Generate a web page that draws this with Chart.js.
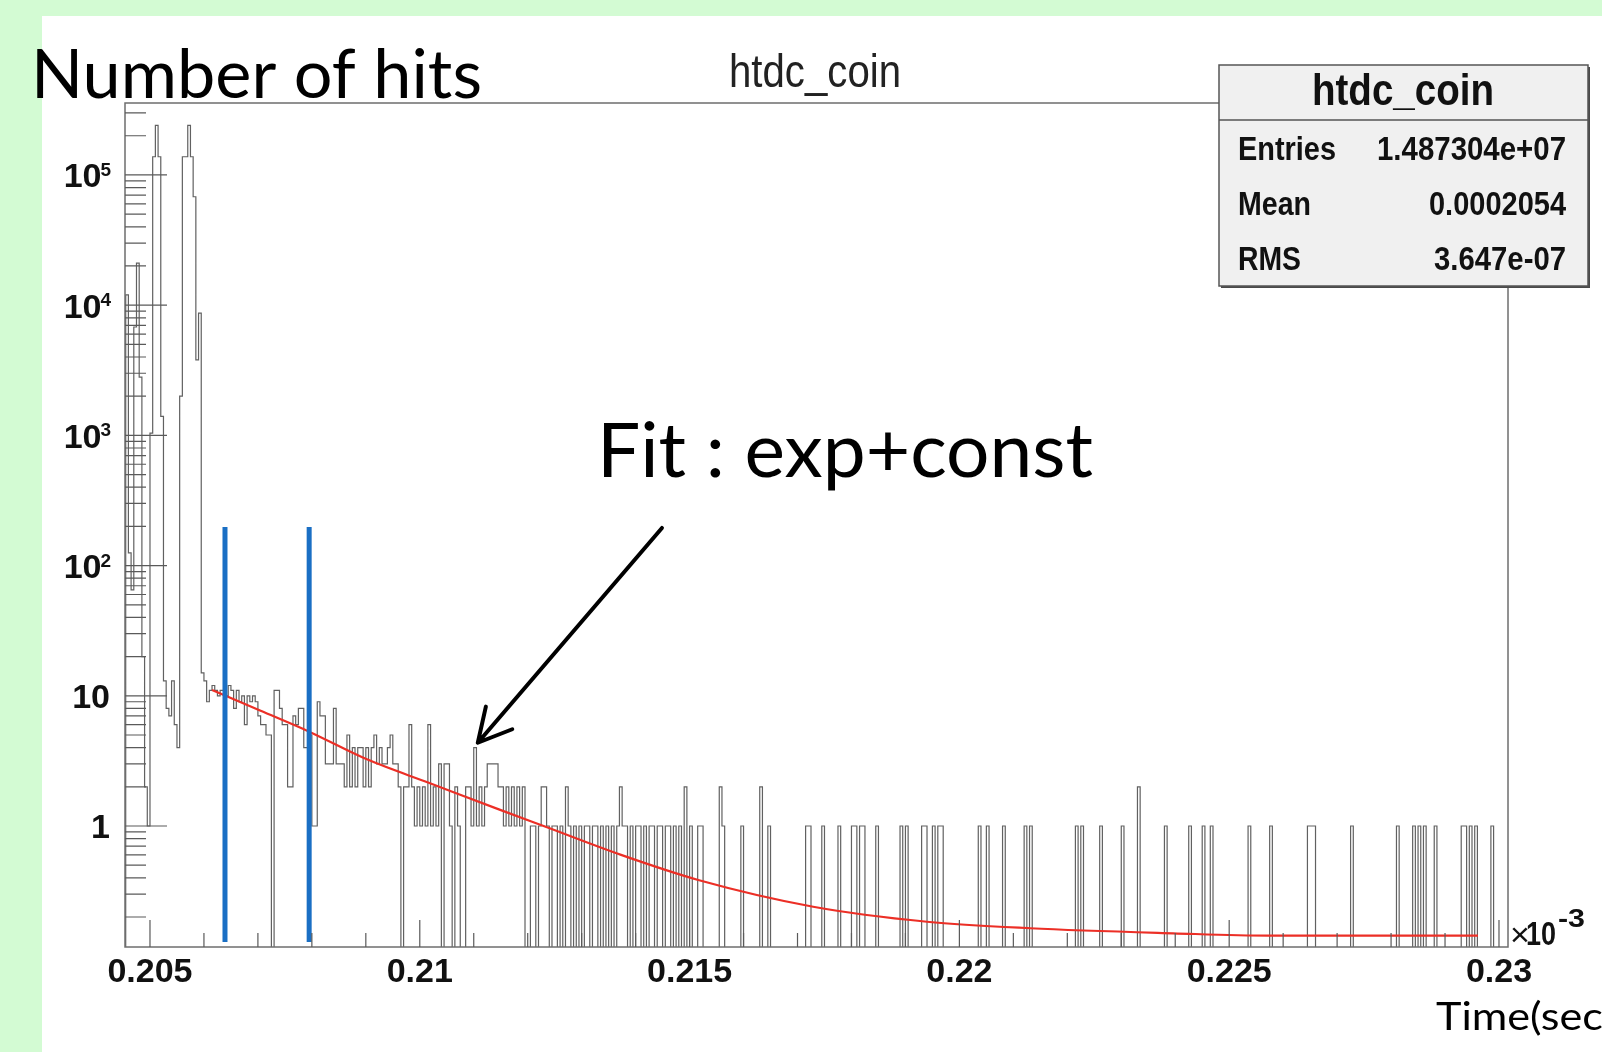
<!DOCTYPE html>
<html>
<head>
<meta charset="utf-8">
<script src="https://cdn.jsdelivr.net/npm/chart.js@4.4.1/dist/chart.umd.min.js"></script>
<style>
  html, body { margin: 0; padding: 0; background: #fff; }
  canvas { display: block; }
</style>
</head>
<body>
<canvas id="chart" width="1602" height="1052"></canvas>
<script>
// htdc_coin : hits per TDC bin (time axis in units of 1e-3 s)
const binStart = 0.20455;
const binWidth = 0.00005;
const hitCounts = [
  12000, 125, 65, 6800, 21000, 2800, 20, 2, 1, 1040,
  138000, 240000, 138000, 1400, 13, 8, 7, 13, 6, 4,
  2000, 138000, 138000, 240000, 138000, 68000, 3800, 8700, 15, 13,
  9, 11, 12, 11, 10, 11, 11, 10, 12, 11,
  8, 11, 9, 10, 6, 10, 9, 10, 9, 7,
  6, 6, 5, 5, 0, 11, 11, 8, 6, 6,
  2, 2, 7, 6, 8, 8, 4, 4, 5, 1,
  1, 9, 7, 7, 3, 3, 3, 8, 3, 3,
  3, 2, 5, 2, 4, 2, 4, 4, 2, 4,
  2, 4, 5, 3, 4, 3, 3, 4, 5, 3,
  3, 2, 0, 2, 2, 6, 2, 1, 2, 1,
  2, 1, 6, 1, 2, 1, 3, 0, 3, 3,
  1, 0, 2, 1, 0, 0, 2, 2, 1, 4,
  1, 2, 1, 2, 3, 3, 3, 3, 2, 2,
  1, 2, 1, 2, 1, 2, 1, 2, 0, 0,
  1, 1, 0, 1, 2, 2, 1, 0, 1, 1,
  0, 1, 0, 2, 1, 0, 1, 0, 1, 0,
  1, 1, 0, 1, 1, 0, 1, 0, 1, 0,
  1, 0, 1, 2, 1, 1, 0, 1, 0, 1,
  1, 0, 1, 0, 1, 1, 0, 1, 1, 0,
  1, 1, 0, 1, 0, 1, 0, 2, 0, 1,
  0, 0, 1, 1, 0, 0, 0, 0, 0, 0,
  2, 1, 0, 0, 0, 0, 0, 0, 1, 0,
  0, 0, 0, 0, 0, 2, 0, 0, 1, 0,
  0, 0, 0, 0, 0, 0, 0, 0, 0, 0,
  0, 0, 1, 1, 0, 0, 0, 0, 1, 0,
  0, 0, 0, 0, 1, 0, 0, 0, 0, 1,
  1, 0, 1, 1, 0, 0, 0, 0, 1, 0,
  0, 0, 0, 0, 0, 0, 0, 1, 0, 1,
  0, 0, 0, 0, 0, 1, 1, 0, 0, 1,
  0, 1, 1, 0, 0, 0, 0, 0, 0, 0,
  0, 0, 0, 0, 0, 0, 1, 0, 0, 1,
  0, 0, 0, 0, 0, 1, 0, 0, 0, 0,
  0, 0, 0, 1, 0, 1, 0, 0, 0, 0,
  0, 0, 0, 0, 0, 0, 0, 0, 0, 0,
  0, 0, 1, 0, 1, 0, 0, 0, 0, 0,
  0, 1, 0, 0, 0, 0, 0, 0, 0, 1,
  0, 0, 0, 0, 0, 2, 0, 0, 0, 0,
  0, 0, 0, 0, 0, 1, 0, 0, 0, 0,
  0, 0, 0, 0, 1, 0, 0, 0, 0, 1,
  0, 0, 1, 0, 0, 0, 0, 0, 0, 0,
  0, 0, 0, 0, 0, 0, 1, 0, 0, 0,
  0, 0, 0, 0, 1, 0, 0, 0, 0, 0,
  0, 0, 0, 0, 0, 0, 0, 0, 1, 1,
  1, 0, 0, 0, 0, 0, 0, 0, 0, 0,
  0, 0, 0, 0, 1, 0, 0, 0, 0, 0,
  0, 0, 0, 0, 0, 0, 0, 0, 0, 0,
  0, 1, 0, 0, 0, 0, 0, 1, 0, 1,
  0, 1, 0, 0, 0, 1, 0, 0, 0, 0,
  0, 0, 0, 0, 0, 1, 1, 0, 1, 0,
  1, 0, 0, 0, 0, 0, 1, 0, 0, 0,
  0, 0
];

// exp + const fit
const fitTime = [0.20615, 0.20704, 0.20795, 0.20902, 0.21019, 0.21149, 0.21232, 0.21373,
                 0.21516, 0.21729, 0.21940, 0.22131, 0.22396, 0.22574, 0.22961];
const fitHits = [11.1, 7.7, 5.3, 3.25, 2.13, 1.33, 0.99, 0.60,
                 0.385, 0.24, 0.184, 0.164, 0.150, 0.144, 0.144];

// blue cut markers
const cutTimes = [0.20639, 0.20795];
const cutRange = [0.1285, 198];

const xTickValues = [0.205, 0.21, 0.215, 0.22, 0.225, 0.23];
const xTickLabels = ['0.205', '0.21', '0.215', '0.22', '0.225', '0.23'];
const yTickValues = [1, 10, 100, 1000, 10000, 100000];
const yTickLabels = ['1', '10', '10', '10', '10', '10'];
const yTickExponents = ['', '', '2', '3', '4', '5'];

const xRange = [0.204537, 0.230167];
const yRange = [0.1177, 357000];

// arrow of the annotation, in axis units
const arrowFrom = { x: 0.214488, y: 194.5 };
const arrowTo = { x: 0.211075, y: 4.36 };

const ROOT_FONT = "'Liberation Sans', Arial, Helvetica, sans-serif";
const SLIDE_FONT = "Lato, 'Open Sans', sans-serif";
const LABEL_FONT = { family: ROOT_FONT, size: 34, weight: 'bold' };
const EXP_GAP = '\u2005'; // room kept after "10" for the exponent
const EMPTY = 1e-4; // empty bins drop below the frame, as ROOT draws them

// step outline: one point per bin left edge, plus closing edges
const histPoints = [{ x: binStart, y: EMPTY }];
hitCounts.forEach(function (n, i) {
  histPoints.push({ x: binStart + i * binWidth, y: n > 0 ? n : EMPTY });
});
histPoints.push({ x: binStart + hitCounts.length * binWidth, y: EMPTY });

const fitPoints = fitTime.map(function (t, i) { return { x: t, y: fitHits[i] }; });

const cutSets = cutTimes.map(function (t) {
  return {
    data: [{ x: t, y: cutRange[0] }, { x: t, y: cutRange[1] }],
    borderColor: '#1a6fc4',
    borderWidth: 5,
    pointRadius: 0,
    clip: 0,
    order: 1
  };
});

function squeezeText(c, text, x, y, font, width, align, measureAs) {
  c.save();
  c.font = font;
  const w = c.measureText(measureAs || text).width;
  c.translate(x, y);
  c.scale(width / w, 1);
  c.textAlign = align || 'left';
  c.textBaseline = 'alphabetic';
  c.fillText(text, 0, 0);
  c.restore();
}

const rootLook = {
  id: 'rootLook',
  beforeDraw: function (chart) {
    const c = chart.ctx;
    c.save();
    c.fillStyle = '#d3fbd3';
    c.fillRect(0, 0, chart.width, chart.height);
    c.fillStyle = '#ffffff';
    c.fillRect(42, 16, chart.width - 42, chart.height - 16);
    c.restore();
  },
  afterDraw: function (chart) {
    const c = chart.ctx;
    const a = chart.chartArea;
    const xs = chart.scales.x;
    const ys = chart.scales.y;

    c.save();
    // frame
    c.strokeStyle = '#6e6e6e';
    c.lineWidth = 1.5;
    c.strokeRect(a.left, a.top, a.right - a.left, a.bottom - a.top);

    // ticks drawn inside the frame, ROOT style
    c.lineWidth = 1.2;
    c.strokeStyle = '#5a5a5a';
    c.beginPath();
    for (let i = 0; i <= 25; i++) {
      const px = xs.getPixelForValue(0.205 + i * 0.001);
      const len = i % 5 === 0 ? 27 : 14;
      c.moveTo(px, a.bottom);
      c.lineTo(px, a.bottom - len);
    }
    for (let e = -1; e <= 5; e++) {
      for (let m = 1; m <= 9; m++) {
        const v = m * Math.pow(10, e);
        if (v < ys.min || v > ys.max) continue;
        const py = ys.getPixelForValue(v);
        c.moveTo(a.left, py);
        c.lineTo(a.left + (m === 1 ? 42 : 21), py);
      }
    }
    c.stroke();

    // exponents of the y labels, in the gap left after "10"
    c.fillStyle = '#111';
    c.font = 'bold ' + LABEL_FONT.size + 'px ' + ROOT_FONT;
    const gap = c.measureText(EXP_GAP).width;
    c.font = 'bold 19px ' + ROOT_FONT;
    c.textAlign = 'left';
    c.textBaseline = 'alphabetic';
    yTickValues.forEach(function (v, i) {
      if (!yTickExponents[i]) return;
      const py = ys.getPixelForValue(v) + 3;
      c.fillText(yTickExponents[i], a.left - 15 - gap - 1, py - 2);
    });

    // x10^-3 exponent
    c.font = '34px ' + ROOT_FONT;
    c.fillText('×', 1510, 946);
    squeezeText(c, '10', 1526, 945, 'bold 33px ' + ROOT_FONT, 30);
    squeezeText(c, '-3', 1558, 927, 'bold 25px ' + ROOT_FONT, 27);

    // histogram title
    c.fillStyle = '#222';
    squeezeText(c, 'htdc_coin', 815, 87, '46px ' + ROOT_FONT, 172, 'center');

    // stats box
    const bx = 1219, by = 65, bw = 369, bh = 221;
    c.fillStyle = '#4a4a4a';
    c.fillRect(bx + 2, by + 2, bw, bh);
    c.fillStyle = '#f0f0f0';
    c.fillRect(bx, by, bw, bh);
    c.strokeStyle = '#555';
    c.lineWidth = 1.5;
    c.strokeRect(bx, by, bw, bh);
    c.beginPath();
    c.moveTo(bx, 120);
    c.lineTo(bx + bw, 120);
    c.stroke();
    c.fillStyle = '#111';
    squeezeText(c, 'htdc_coin', 1403, 105, 'bold 44px ' + ROOT_FONT, 182, 'center');
    const rows = [['Entries', '1.487304e+07', 98, 189], ['Mean', '0.0002054', 73, 137], ['RMS', '3.647e-07', 63, 132]];
    rows.forEach(function (r, i) {
      const base = 160 + i * 55;
      squeezeText(c, r[0], 1238, base, 'bold 33px ' + ROOT_FONT, r[2], 'left');
      squeezeText(c, r[1], 1566, base, 'bold 33px ' + ROOT_FONT, r[3], 'right');
    });

    // slide annotations
    c.fillStyle = '#000';
    squeezeText(c, 'Number of hits', 31, 98, '67px ' + SLIDE_FONT, 451, 'left');
    squeezeText(c, 'Fit : exp+const', 597, 477, '76px ' + SLIDE_FONT, 496, 'left');
    squeezeText(c, 'Time(sec)', 1436, 1030, '39px ' + SLIDE_FONT, 167, 'left', 'Time(sec');

    // arrow
    const x0 = xs.getPixelForValue(arrowFrom.x), y0 = ys.getPixelForValue(arrowFrom.y);
    const x1 = xs.getPixelForValue(arrowTo.x), y1 = ys.getPixelForValue(arrowTo.y);
    const ang = Math.atan2(y0 - y1, x0 - x1);
    const head = 37, spread = 28 * Math.PI / 180;
    c.strokeStyle = '#000';
    c.lineWidth = 4;
    c.lineCap = 'round';
    c.lineJoin = 'round';
    c.beginPath();
    c.moveTo(x0, y0);
    c.lineTo(x1, y1);
    c.moveTo(x1 + head * Math.cos(ang - spread), y1 + head * Math.sin(ang - spread));
    c.lineTo(x1, y1);
    c.lineTo(x1 + head * Math.cos(ang + spread), y1 + head * Math.sin(ang + spread));
    c.stroke();
    c.restore();
  }
};

new Chart(document.getElementById('chart').getContext('2d'), {
  type: 'line',
  data: {
    datasets: [
      {
        data: histPoints,
        stepped: 'before',
        borderColor: '#616161',
        borderWidth: 1.2,
        pointRadius: 0,
        clip: 0,
        order: 3
      },
      {
        data: fitPoints,
        borderColor: '#ec2f26',
        borderWidth: 2.2,
        pointRadius: 0,
        cubicInterpolationMode: 'monotone',
        clip: 0,
        order: 2
      }
    ].concat(cutSets)
  },
  options: {
    responsive: false,
    animation: false,
    layout: { padding: { top: 103, right: 94, left: 0, bottom: 0 } },
    plugins: {
      legend: { display: false },
      tooltip: { enabled: false },
      title: { display: false }
    },
    scales: {
      x: {
        type: 'linear',
        min: xRange[0],
        max: xRange[1],
        afterBuildTicks: function (scale) {
          scale.ticks = xTickValues.map(function (v) { return { value: v }; });
        },
        afterFit: function (scale) { scale.height = 105; },
        grid: { display: false, drawTicks: false },
        border: { display: false },
        ticks: {
          autoSkip: false,
          maxRotation: 0,
          padding: 5,
          color: '#111',
          font: LABEL_FONT,
          callback: function (v) { return xTickLabels[xTickValues.indexOf(v)]; }
        }
      },
      y: {
        type: 'logarithmic',
        min: yRange[0],
        max: yRange[1],
        afterBuildTicks: function (scale) {
          scale.ticks = yTickValues.map(function (v) { return { value: v }; });
        },
        afterFit: function (scale) { scale.width = 125; },
        grid: { display: false, drawTicks: false },
        border: { display: false },
        ticks: {
          autoSkip: false,
          padding: 15,
          labelOffset: 3,
          color: '#111',
          font: LABEL_FONT,
          callback: function (v) {
            const i = yTickValues.indexOf(v);
            return yTickLabels[i] + (yTickExponents[i] ? EXP_GAP : '');
          }
        }
      }
    }
  },
  plugins: [rootLook]
});
</script>
</body>
</html>
